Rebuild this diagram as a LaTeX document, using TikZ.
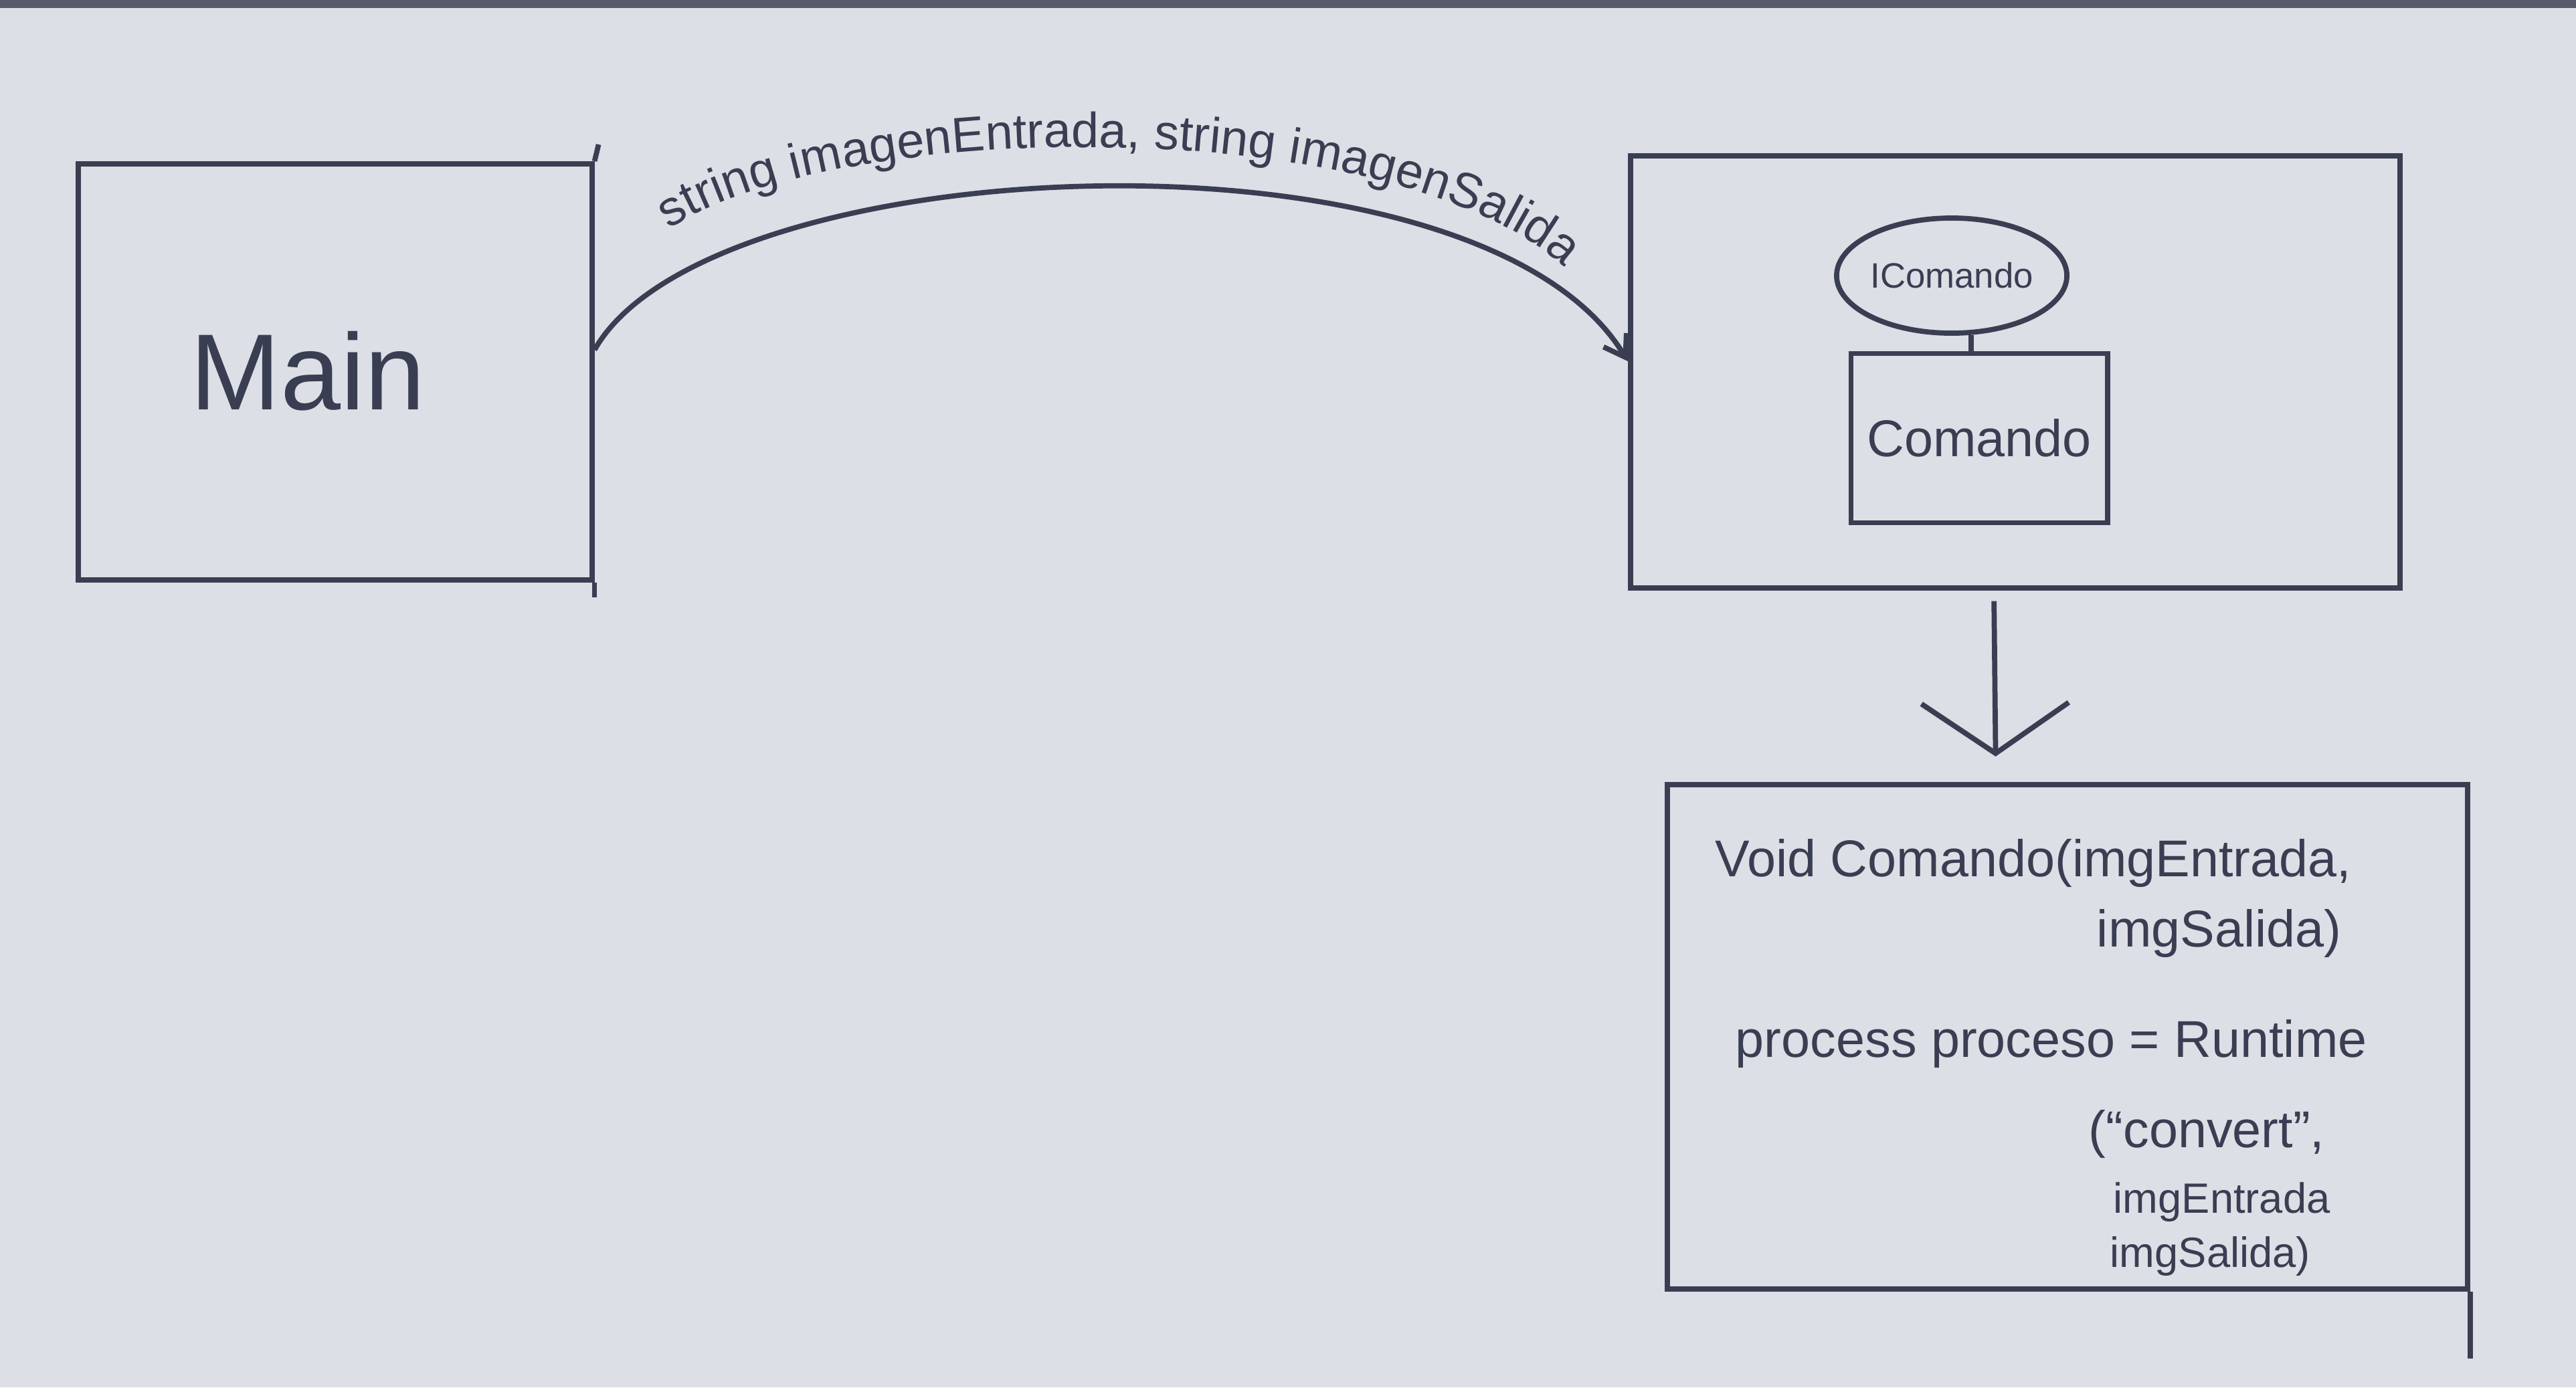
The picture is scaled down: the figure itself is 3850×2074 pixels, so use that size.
\documentclass[tikz,border=0pt]{standalone}
\usepackage{fontspec}
\setmainfont{Liberation Sans}
\usetikzlibrary{arrows.meta,shapes.geometric,decorations.text,calc}
\definecolor{paper}{RGB}{220,223,229}
\definecolor{ink}{RGB}{58,62,82}
\begin{document}
\begin{tikzpicture}[x=0.01cm,y=-0.01cm,color=ink,line width=2.2pt,
  frame/.style={draw=ink,rectangle,inner sep=0pt},
  code/.style={anchor=west,inner sep=0pt,font=\fontsize{22}{26}\selectfont},
  codesmall/.style={anchor=west,inner sep=0pt,font=\fontsize{18}{22}\selectfont}]
\fill[paper] (0,0) rectangle (3850,2074);
\fill[ink!85] (0,0) rectangle (3850,12);
\useasboundingbox (0,0) rectangle (3850,2074);

% Main box
\node[frame,minimum width=7.67cm,minimum height=6.22cm] (main) at (501,556) {};
\node[font=\fontsize{46}{54}\selectfont] (mainlbl) at (460,555) {Main};
\draw (main.north east) -- ++(6,-25);
\draw (main.south east) -- ++(0,22);

% right box with interface and class
\node[frame,minimum width=11.5cm,minimum height=6.45cm] (svc) at (3012,556) {};
\node[draw=ink,ellipse,minimum width=2.7cm,minimum height=1.72cm,inner sep=0pt,font=\fontsize{15}{18}\selectfont] (icmd) at (2917,412) {IComando};
\node[frame,minimum width=3.83cm,minimum height=2.53cm,font=\fontsize{22}{26}\selectfont] (cmd) at (2958,655) {Comando};
\draw (icmd.-72) -- (icmd.-72 |- cmd.north);

% curved connector
\draw[-{Straight Barb[length=0.3cm,width=0.4cm]}] ($(main.east)+(0,-33)$) .. controls (1060,220) and (2210,170) .. ($(svc.west)+(0,-16)$);
\path[decorate,decoration={text along path,text align=center,
  text={|\color{ink}\fontsize{21}{25}\selectfont|string imagenEntrada, string imagenSalida}}]
  (945,392) .. controls (1110,165) and (2190,140) .. (2385,455);

% bottom box
\node[frame,minimum width=11.95cm,minimum height=7.54cm] (bb) at (3090,1550) {};
\draw (bb.south east) -- ++(0,100);
\draw[-{Straight Barb[length=0.75cm,width=2.2cm]},shorten <=0.16cm,shorten >=0.38cm]
  ($(svc.south)+(-32,0)$) -- ($(bb.north)+(-107,0)$);

\node[code] (l1) at (2560,1290) {Void Comando(imgEntrada,};
\node[code] (l2) at (3130,1395) {imgSalida)};
\node[code] (l3) at (2590,1560) {process proceso = Runtime};
\node[code] (l4) at (3118,1695) {(“convert”,};
\node[codesmall] (l5) at (3155,1797) {imgEntrada};
\node[codesmall] (l6) at (3150,1878) {imgSalida)};
\end{tikzpicture}
\end{document}
